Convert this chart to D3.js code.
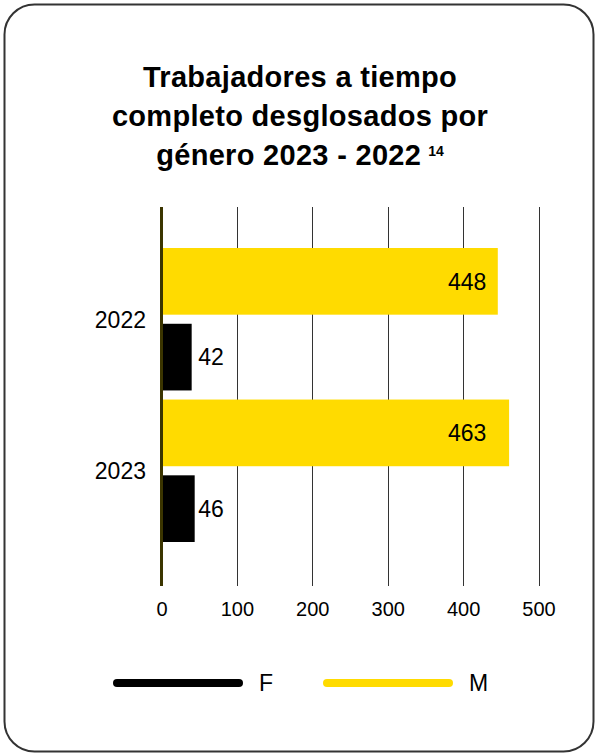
<!DOCTYPE html>
<html>
<head>
<meta charset="utf-8">
<script src="https://cdn.jsdelivr.net/npm/d3@7"></script>
<style>
  body { margin: 0; background: #fff; }
  svg text { font-family: "Liberation Sans", Arial, sans-serif; fill: #000; }
</style>
</head>
<body>
<svg id="chart" width="598" height="756"></svg>
<script>
// data
var years = ["2022", "2023"];
var series = ["M", "F"];
var valuesM = [448, 463];
var valuesF = [42, 46];
var ticks = [0, 100, 200, 300, 400, 500];
var legendItems = ["F", "M"];
var colors = { F: "#000000", M: "#FFDB00" };

var svg = d3.select("#chart");

// card frame
svg.append("rect")
    .attr("x", 4.5).attr("y", 4.5)
    .attr("width", 589).attr("height", 747)
    .attr("rx", 30).attr("ry", 30)
    .attr("fill", "#fff")
    .attr("stroke", "#333")
    .attr("stroke-width", 2);

// title
var titleLines = ["Trabajadores a tiempo", "completo desglosados por", "género 2023 - 2022"];
var title = svg.append("g");
var lines = titleLines.map(function(t, i) {
    return title.append("text")
        .attr("x", 300)
        .attr("y", 87 + i * 39)
        .attr("text-anchor", "middle")
        .style("font-size", "29px")
        .style("font-weight", "bold")
        .style("letter-spacing", "0.3px")
        .text(t);
});
// footnote mark after the last line, the pair centred together
var sup = title.append("text")
    .attr("y", 156)
    .style("font-size", "14px")
    .style("font-weight", "bold")
    .text("14");
var w3 = lines[2].node().getComputedTextLength();
var wSup = sup.node().getComputedTextLength();
var start = 300 - (w3 + 7 + wSup) / 2;
lines[2].attr("text-anchor", "start").attr("x", start);
sup.attr("x", start + w3 + 7);

var x = d3.scaleLinear().domain([0, 500]).range([161.5, 538.5]);

var y = d3.scaleBand()
    .domain(years)
    .range([248, 542])
    .paddingInner(0.06);

var yInner = d3.scaleBand()
    .domain(series)
    .range([0, y.bandwidth()])
    .paddingInner(0.12);

var gridTop = 207, gridBottom = 586;

// gridlines
svg.append("g").selectAll("line")
    .data(ticks.filter(function(d) { return d > 0; }))
    .enter().append("line")
    .attr("x1", function(d) { return Math.round(x(d)) + 0.5; })
    .attr("x2", function(d) { return Math.round(x(d)) + 0.5; })
    .attr("y1", gridTop).attr("y2", gridBottom)
    .attr("stroke", "#333")
    .attr("stroke-width", 1);

// x axis labels
var xAxis = d3.axisBottom(x).tickValues(ticks).tickSize(0).tickPadding(0);
var ax = svg.append("g")
    .attr("transform", "translate(0," + 602 + ")")
    .call(xAxis);
ax.select(".domain").remove();
ax.selectAll("text")
    .style("font-size", "20px")
    .style("font-family", "'Liberation Sans', Arial, sans-serif")
    .attr("fill", "#000");

// bars
var rows = [];
years.forEach(function(yr, i) {
    rows.push({ year: yr, s: "M", v: valuesM[i] });
    rows.push({ year: yr, s: "F", v: valuesF[i] });
});

svg.append("g").selectAll("rect")
    .data(rows)
    .enter().append("rect")
    .attr("x", x(0) - 1.5)
    .attr("y", function(d) { return y(d.year) + yInner(d.s); })
    .attr("width", function(d) { return x(d.v) - x(0); })
    .attr("height", yInner.bandwidth())
    .attr("fill", function(d) { return colors[d.s]; });

// value labels (aligned in columns like the original)
var mEnd = x(d3.min(valuesM)) - 13;
var fStart = x(d3.max(valuesF)) + 2;
svg.append("g").selectAll("text")
    .data(rows)
    .enter().append("text")
    .attr("x", function(d) { return d.s == "M" ? mEnd : fStart; })
    .attr("y", function(d) { return y(d.year) + yInner(d.s) + yInner.bandwidth() / 2; })
    .attr("dy", "0.36em")
    .attr("text-anchor", function(d) { return d.s == "M" ? "end" : "start"; })
    .style("font-size", "23px")
    .text(function(d) { return d.v; });

// year labels
svg.append("g").selectAll("text")
    .data(years)
    .enter().append("text")
    .attr("x", 146)
    .attr("y", function(d) { return y(d) + y.bandwidth() / 2; })
    .attr("dy", "0.36em")
    .attr("text-anchor", "end")
    .style("font-size", "23px")
    .text(function(d) { return d; });

// zero line
svg.append("line")
    .attr("x1", x(0)).attr("x2", x(0))
    .attr("y1", gridTop).attr("y2", gridBottom)
    .attr("stroke", "#3b3500")
    .attr("stroke-width", 3);

// legend
var legend = svg.append("g").selectAll("g")
    .data(legendItems)
    .enter().append("g")
    .attr("transform", function(d, i) { return "translate(" + (117 + i * 210) + ",683)"; });

legend.append("line")
    .attr("x1", 0).attr("x2", 122)
    .attr("y1", 0).attr("y2", 0)
    .attr("stroke", function(d) { return colors[d]; })
    .attr("stroke-width", 8)
    .attr("stroke-linecap", "round");

legend.append("text")
    .attr("x", 142)
    .attr("dy", "0.36em")
    .style("font-size", "23px")
    .text(function(d) { return d; });
</script>
</body>
</html>
